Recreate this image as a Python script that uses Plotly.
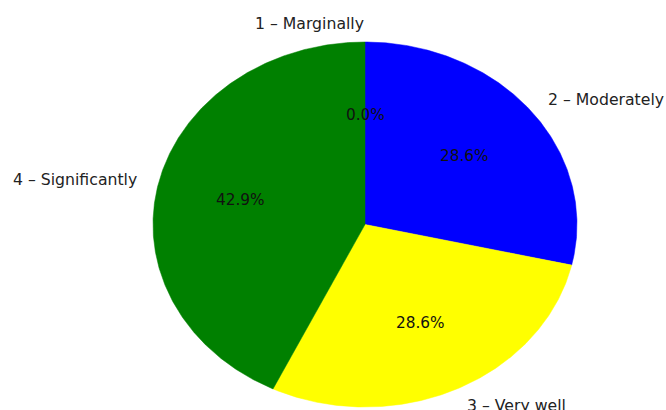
import numpy as np
import plotly.graph_objects as go

# Data
labels = ["1 – Marginally", "2 – Moderately", "3 – Very well", "4 – Significantly"]
values = [0, 2, 2, 3]
colors = ["#ff0000", "#0000ff", "#ffff00", "#008000"]

# Geometry of the (horizontally stretched) pie, in pixel coordinates
CX, CY, RX, RY = 365, 224.5, 212, 182.5
FONT = "DejaVu Sans"

fig = go.Figure()
total = sum(values)
start = 90.0
annotations = []
for lab, v, c in zip(labels, values, colors):
    sweep = v / total * 360.0
    end = start - sweep
    if v > 0:
        t = np.radians(np.linspace(start, end, max(int(sweep * 2), 2)))
        xs = [CX] + list(CX + RX * np.cos(t)) + [CX]
        ys = [CY] + list(CY - RY * np.sin(t)) + [CY]
        fig.add_trace(go.Scatter(x=xs, y=ys, fill="toself", fillcolor=c,
                                 mode="lines", line=dict(color=c, width=0.5),
                                 hoverinfo="skip", showlegend=False))
    mid = np.radians((start + end) / 2)
    lx = CX + 1.1 * RX * np.cos(mid)
    ly = CY - 1.1 * RY * np.sin(mid)
    annotations.append(dict(x=lx, y=ly, text=lab, showarrow=False,
                            xanchor="left" if np.cos(mid) > 1e-9 else "right",
                            yanchor="middle", borderpad=0,
                            font=dict(family=FONT, size=15.7, color="#222")))
    px = CX + 0.6 * RX * np.cos(mid)
    py = CY - 0.6 * RY * np.sin(mid)
    annotations.append(dict(x=px, y=py, text=f"{v / total * 100:.1f}%", showarrow=False,
                            xanchor="center", yanchor="middle", borderpad=0,
                            font=dict(family=FONT, size=15.3, color="#111")))
    start = end

fig.update_layout(
    width=666, height=410,
    margin=dict(l=0, r=0, t=0, b=0),
    paper_bgcolor="white", plot_bgcolor="white",
    xaxis=dict(range=[0, 666], visible=False, fixedrange=True),
    yaxis=dict(range=[410, 0], visible=False, fixedrange=True),
    annotations=annotations,
    showlegend=False,
)
fig.write_html("out.html", config={"displayModeBar": False, "staticPlot": True},
               post_script="document.body.style.margin='0';document.body.style.overflow='hidden';")
